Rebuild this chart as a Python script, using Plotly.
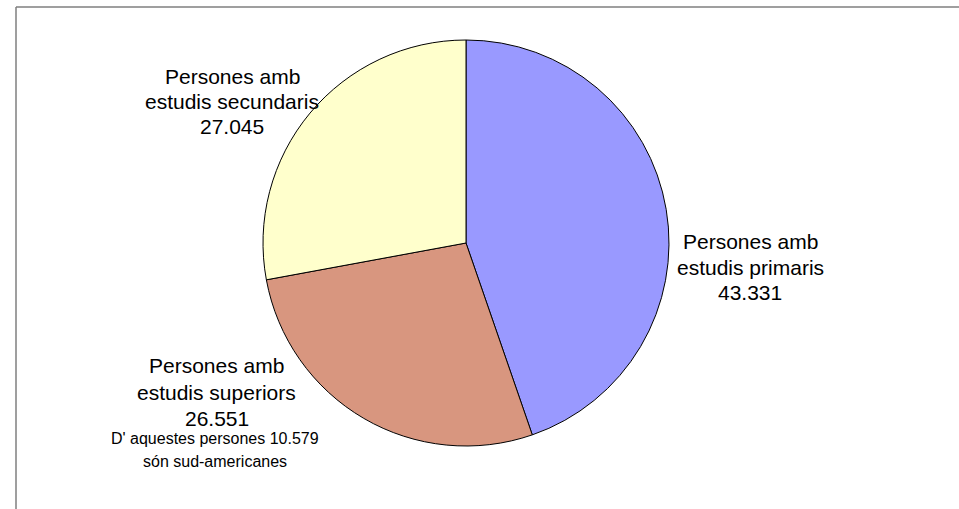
import plotly.graph_objects as go

# Data
categories = ["Persones amb estudis primaris", "Persones amb estudis superiors", "Persones amb estudis secundaris"]
values = [43.331, 26.551, 27.045]
value_labels = ["43.331", "26.551", "27.045"]
colors = ["#9999FF", "#D8967F", "#FFFFCC"]
note_lines = ["D' aquestes persones 10.579", "són sud-americanes"]

W, H = 959, 509
cx, cy, r = 466, 243, 203

fig = go.Figure()
fig.add_trace(go.Pie(
    labels=categories,
    values=values,
    sort=False,
    direction="clockwise",
    rotation=0,
    textinfo="none",
    hoverinfo="label+value",
    marker=dict(colors=colors, line=dict(color="#000000", width=1)),
    domain=dict(x=[(cx - r) / W, (cx + r) / W], y=[(H - cy - r) / H, (H - cy + r) / H]),
    showlegend=False,
))

FONT = "Liberation Sans, Arial, sans-serif"

def add_line(text, x, y, size):
    fig.add_annotation(
        text=text, x=x / W, y=1 - y / H, xref="paper", yref="paper",
        xanchor="center", yanchor="middle", showarrow=False,
        font=dict(family=FONT, size=size, color="#000000"),
    )

# Label blocks: (lines, x center, y centers)
blocks = [
    (["Persones amb", "estudis primaris", value_labels[0]], 750, [242, 267.7, 292.7]),
    (["Persones amb", "estudis superiors", value_labels[1]], 216.5, [365.7, 392.2, 418.7]),
    (["Persones amb", "estudis secundaris", value_labels[2]], 232, [76.7, 101.7, 126.7]),
]
for lines, x, ys in blocks:
    for t, y in zip(lines, ys):
        add_line(t, x, y, 21)

for t, y in zip(note_lines, [438.5, 461.5]):
    add_line(t, 215, y, 16)

# Outer frame (partially visible)
fig.add_shape(type="line", xref="paper", yref="paper",
              x0=16 / W, x1=1.05, y0=1 - 7 / H, y1=1 - 7 / H,
              line=dict(color="#7F7F7F", width=1.5))
fig.add_shape(type="line", xref="paper", yref="paper",
              x0=16 / W, x1=16 / W, y0=1 - 7 / H, y1=-0.05,
              line=dict(color="#7F7F7F", width=1.5))

fig.update_layout(
    width=W, height=H,
    margin=dict(l=0, r=0, t=0, b=0),
    paper_bgcolor="#FFFFFF",
    plot_bgcolor="#FFFFFF",
)

fig.write_html(
    "out.html",
    config={"displayModeBar": False},
    post_script="document.body.style.margin='0';document.body.style.padding='0';document.body.style.overflow='hidden';",
)
